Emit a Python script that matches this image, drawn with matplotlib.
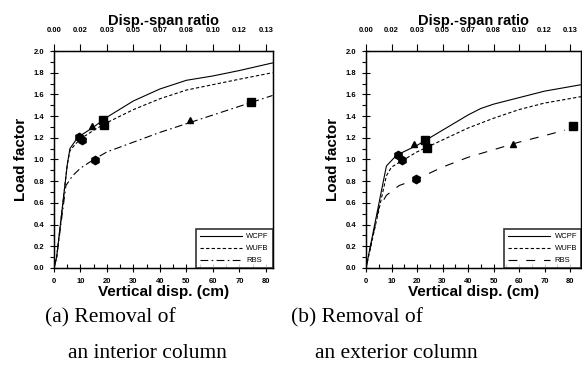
import matplotlib
matplotlib.use("Agg")
import matplotlib.pyplot as plt
from matplotlib.ticker import MultipleLocator

plt.rcParams['font.family'] = 'Liberation Sans'

# (a) removal of an interior column
a_wcpf_x = [0, 1, 5, 6, 8, 10, 15, 20, 30, 40, 50, 60, 70, 82.5]
a_wcpf_y = [0, 0.1, 0.95, 1.1, 1.17, 1.22, 1.3, 1.39, 1.54, 1.65, 1.73, 1.77, 1.82, 1.89]
a_wufb_x = [0, 1, 5, 6, 8, 10, 15, 20, 30, 40, 50, 60, 70, 82.5]
a_wufb_y = [0, 0.1, 0.95, 1.08, 1.14, 1.19, 1.27, 1.34, 1.46, 1.56, 1.64, 1.69, 1.74, 1.80]
a_rbs_x = [0, 1, 4.5, 7, 10, 15, 20, 30, 40, 50, 60, 70, 82.5]
a_rbs_y = [0, 0.1, 0.76, 0.85, 0.92, 1.0, 1.07, 1.16, 1.25, 1.33, 1.41, 1.49, 1.59]

a_hex_x = [9.5, 10.5, 15.5]
a_hex_y = [1.21, 1.18, 1.0]
a_tri_x = [14.5, 51.5]
a_tri_y = [1.31, 1.36]
a_sq_x = [18.5, 18.8, 74.5]
a_sq_y = [1.36, 1.32, 1.53]

# (b) removal of an exterior column
b_wcpf_x = [0, 8, 12, 20, 25, 30, 40, 45, 50, 60, 70, 84.5]
b_wcpf_y = [0, 0.94, 1.04, 1.13, 1.2, 1.27, 1.41, 1.47, 1.51, 1.57, 1.63, 1.69]
b_wufb_x = [0, 8, 10, 15, 20, 30, 40, 50, 60, 70, 84.5]
b_wufb_y = [0, 0.85, 0.93, 1.0, 1.07, 1.18, 1.29, 1.38, 1.46, 1.52, 1.58]
b_rbs_x = [0, 5, 8, 13, 20, 30, 40, 50, 60, 70, 78]
b_rbs_y = [0, 0.55, 0.67, 0.76, 0.82, 0.93, 1.02, 1.09, 1.16, 1.22, 1.27]

b_hex_x = [12.5, 14, 19.5]
b_hex_y = [1.04, 1.0, 0.82]
b_tri_x = [19, 57.5]
b_tri_y = [1.14, 1.14]
b_sq_x = [23, 24, 81]
b_sq_y = [1.18, 1.11, 1.31]

top_labels = ["0.00", "0.02", "0.03", "0.05", "0.07", "0.08", "0.10", "0.12", "0.13"]

fig = plt.figure(figsize=(5.82, 3.79), dpi=100)
ax1 = fig.add_axes([54 / 582, 1 - 268 / 379, (272.5 - 54) / 582, 217 / 379])
ax2 = fig.add_axes([366 / 582, 1 - 268 / 379, (581 - 366) / 582, 217 / 379])


def draw(ax, wx, wy, ux, uy, rx, ry, hx, hy, tx, ty, sx, sy, xmax, rbs_dash):
    ax.plot(wx, wy, color='black', lw=0.8, label='WCPF')
    ax.plot(ux, uy, color='black', lw=0.8, ls=(0, (3, 2)), label='WUFB')
    ax.plot(rx, ry, color='black', lw=0.8, ls=rbs_dash, label='RBS')
    ax.plot(hx, hy, 'h', color='black', ms=6, ls='none')
    ax.plot(tx, ty, '^', color='black', ms=5, ls='none')
    ax.plot(sx, sy, 's', color='black', ms=6, ls='none')
    ax.set_xlim(0, xmax)
    ax.set_ylim(0, 2.0)
    ax.xaxis.set_major_locator(MultipleLocator(10))
    ax.xaxis.set_minor_locator(MultipleLocator(5))
    ax.yaxis.set_major_locator(MultipleLocator(0.2))
    ax.yaxis.set_minor_locator(MultipleLocator(0.1))
    ax.yaxis.set_major_formatter(plt.FuncFormatter(lambda v, p: f"{v:.1f}"))
    ax.tick_params(which='major', direction='inout', length=6, width=0.8, labelsize=5.5, pad=4)
    ax.tick_params(which='minor', direction='in', length=3, width=0.8)
    ax.tick_params(axis='y', which='minor', direction='out')
    ax.tick_params(top=False, right=False)
    for lab in ax.get_xticklabels() + ax.get_yticklabels():
        lab.set_fontweight('bold')
    for sp in ax.spines.values():
        sp.set_linewidth(1.0)
    ax.set_xlabel("Vertical disp. (cm)", fontsize=11, fontweight='bold', labelpad=0)
    ax.set_ylabel("Load factor", fontsize=11, fontweight='bold', labelpad=4)

    top = ax.twiny()
    top.set_xlim(0, xmax)
    top.set_xticks(range(0, 90, 10))
    top.set_xticklabels(top_labels, fontweight='bold')
    top.tick_params(direction='out', length=5, width=0.8, labelsize=5.5, pad=7)
    top.set_xlabel("Disp.-span ratio", fontsize=10.5, fontweight='bold', labelpad=2)

    leg = ax.legend(loc='lower right', fontsize=5.5, frameon=True, fancybox=False,
                    handlelength=5.5, borderaxespad=0, borderpad=0.5,
                    labelspacing=0.6, handletextpad=0.6)
    leg.get_frame().set_edgecolor('black')
    leg.get_frame().set_linewidth(1.2)


draw(ax1, a_wcpf_x, a_wcpf_y, a_wufb_x, a_wufb_y, a_rbs_x, a_rbs_y,
     a_hex_x, a_hex_y, a_tri_x, a_tri_y, a_sq_x, a_sq_y, 82.5, (0, (7, 3, 1.5, 3)))
draw(ax2, b_wcpf_x, b_wcpf_y, b_wufb_x, b_wufb_y, b_rbs_x, b_rbs_y,
     b_hex_x, b_hex_y, b_tri_x, b_tri_y, b_sq_x, b_sq_y, 84.3, (0, (8, 8)))

cap = dict(fontsize=15.5, family='Liberation Serif', va='center', ha='left')
fig.text(45 / 582, 1 - 318 / 379, "(a) Removal of", **cap)
fig.text(68 / 582, 1 - 353 / 379, "an interior column", **cap)
fig.text(291 / 582, 1 - 318 / 379, "(b) Removal of", **cap)
fig.text(315 / 582, 1 - 353 / 379, "an exterior column", **cap)

fig.savefig("out.png", dpi=100)
